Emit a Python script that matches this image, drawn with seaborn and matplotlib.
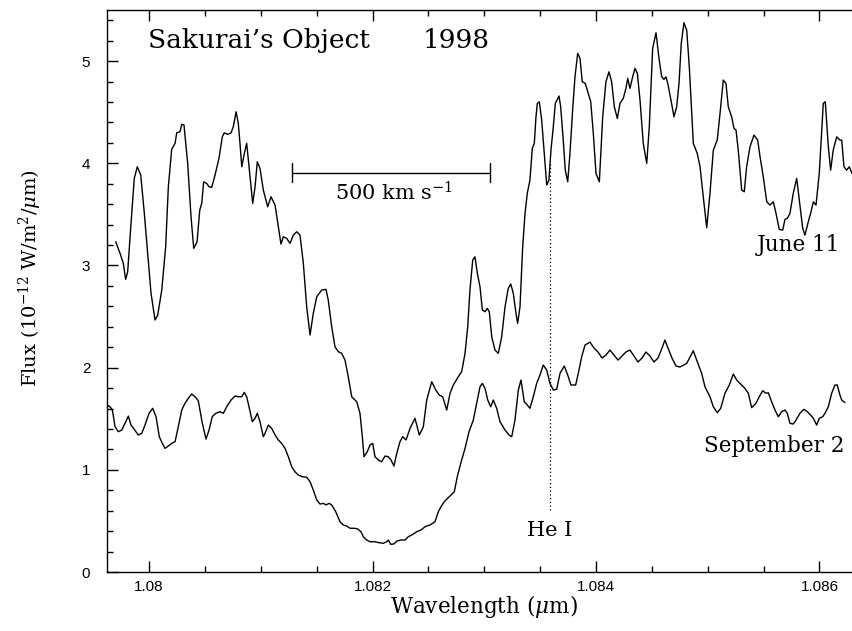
import matplotlib
matplotlib.use("Agg")
import matplotlib.pyplot as plt
import seaborn as sns
import pandas as pd
from matplotlib.ticker import MultipleLocator, FixedLocator, FixedFormatter

# ---------------- data ----------------
june_wl = [1.079702, 1.079740, 1.079770, 1.079791, 1.079809, 1.079839, 1.079868, 1.079895, 1.079926, 1.079958,
           1.079988, 1.080018, 1.080054, 1.080078, 1.080114, 1.080149, 1.080173, 1.080203, 1.080233, 1.080248,
           1.080277, 1.080293, 1.080313, 1.080346, 1.080376, 1.080400, 1.080430, 1.080454, 1.080472, 1.080489,
           1.080516, 1.080537, 1.080561, 1.080591, 1.080626, 1.080656, 1.080674, 1.080704, 1.080734, 1.080754,
           1.080779, 1.080799, 1.080814, 1.080830, 1.080853, 1.080874, 1.080895, 1.080928, 1.080949, 1.080969,
           1.080993, 1.081023, 1.081062, 1.081092, 1.081128, 1.081157, 1.081181, 1.081202, 1.081232, 1.081262,
           1.081291, 1.081322, 1.081351, 1.081381, 1.081411, 1.081441, 1.081470, 1.081501, 1.081545, 1.081584,
           1.081604, 1.081635, 1.081664, 1.081694, 1.081724, 1.081754, 1.081783, 1.081814, 1.081859, 1.081888,
           1.081909, 1.081924, 1.081953, 1.081978, 1.082002, 1.082022, 1.082052, 1.082082, 1.082112, 1.082141,
           1.082166, 1.082192, 1.082217, 1.082246, 1.082270, 1.082300, 1.082336, 1.082380, 1.082419, 1.082455,
           1.082485, 1.082530, 1.082566, 1.082598, 1.082628, 1.082664, 1.082694, 1.082723, 1.082768, 1.082798,
           1.082828, 1.082852, 1.082872, 1.082897, 1.082917, 1.082938, 1.082962, 1.082983, 1.083007, 1.083027,
           1.083045, 1.083067, 1.083096, 1.083126, 1.083156, 1.083186, 1.083215, 1.083237, 1.083260, 1.083284,
           1.083299, 1.083320, 1.083344, 1.083365, 1.083385, 1.083409, 1.083430, 1.083448, 1.083463, 1.083475,
           1.083493, 1.083514, 1.083535, 1.083559, 1.083579, 1.083597, 1.083618, 1.083636, 1.083669, 1.083684,
           1.083707, 1.083725, 1.083747, 1.083767, 1.083791, 1.083812, 1.083836, 1.083857, 1.083877, 1.083904,
           1.083931, 1.083953, 1.083976, 1.084000, 1.084030, 1.084060, 1.084089, 1.084116, 1.084140, 1.084164,
           1.084191, 1.084215, 1.084244, 1.084268, 1.084284, 1.084304, 1.084328, 1.084349, 1.084370, 1.084394,
           1.084423, 1.084454, 1.084477, 1.084507, 1.084537, 1.084564, 1.084588, 1.084608, 1.084626, 1.084642,
           1.084668, 1.084698, 1.084722, 1.084743, 1.084763, 1.084787, 1.084812, 1.084835, 1.084871, 1.084906,
           1.084931, 1.084960, 1.084991, 1.085020, 1.085050, 1.085085, 1.085110, 1.085139, 1.085163, 1.085184,
           1.085214, 1.085235, 1.085253, 1.085273, 1.085304, 1.085327, 1.085348, 1.085378, 1.085414, 1.085447,
           1.085468, 1.085497, 1.085528, 1.085557, 1.085587, 1.085611, 1.085640, 1.085671, 1.085691, 1.085712,
           1.085736, 1.085765, 1.085796, 1.085819, 1.085850, 1.085870, 1.085900, 1.085924, 1.085945, 1.085969,
           1.085998, 1.086034, 1.086052, 1.086079, 1.086100, 1.086123, 1.086154, 1.086183, 1.086199, 1.086219,
           1.086243, 1.086267, 1.086291]
june_flux = [3.232, 3.121, 3.021, 2.864, 2.938, 3.412, 3.852, 3.966, 3.885, 3.510,
             3.118, 2.727, 2.466, 2.515, 2.759, 3.183, 3.770, 4.136, 4.195, 4.298,
             4.308, 4.381, 4.374, 3.999, 3.477, 3.167, 3.232, 3.542, 3.608, 3.819,
             3.803, 3.770, 3.764, 3.885, 4.048, 4.259, 4.298, 4.283, 4.298, 4.357,
             4.504, 4.390, 4.195, 3.966, 4.097, 4.195, 3.966, 3.608, 3.770, 4.015,
             3.950, 3.738, 3.574, 3.672, 3.591, 3.379, 3.209, 3.281, 3.265, 3.216,
             3.297, 3.330, 3.297, 3.021, 2.596, 2.319, 2.531, 2.694, 2.759, 2.766,
             2.661, 2.400, 2.205, 2.156, 2.140, 2.074, 1.911, 1.715, 1.666, 1.553,
             1.324, 1.128, 1.177, 1.243, 1.259, 1.128, 1.096, 1.079, 1.135, 1.128,
             1.096, 1.037, 1.161, 1.275, 1.324, 1.292, 1.406, 1.504, 1.341, 1.422,
             1.683, 1.862, 1.781, 1.732, 1.715, 1.585, 1.749, 1.830, 1.911, 1.960,
             2.140, 2.400, 2.759, 3.053, 3.085, 2.923, 2.792, 2.564, 2.547, 2.580,
             2.547, 2.302, 2.172, 2.140, 2.302, 2.596, 2.776, 2.818, 2.727, 2.531,
             2.433, 2.596, 3.183, 3.510, 3.705, 3.836, 4.146, 4.195, 4.455, 4.586,
             4.602, 4.423, 4.129, 3.787, 3.836, 4.129, 4.357, 4.586, 4.658, 4.553,
             4.227, 3.933, 3.819, 4.097, 4.521, 4.846, 5.075, 5.026, 4.798, 4.782,
             4.684, 4.602, 4.293, 3.901, 3.819, 4.455, 4.798, 4.895, 4.798, 4.553,
             4.439, 4.586, 4.635, 4.733, 4.831, 4.733, 4.846, 4.929, 4.880, 4.618,
             4.195, 3.999, 4.357, 5.124, 5.277, 5.026, 4.846, 4.821, 4.846, 4.782,
             4.635, 4.455, 4.553, 4.782, 5.173, 5.375, 5.303, 4.944, 4.195, 4.097,
             3.966, 3.672, 3.369, 3.705, 4.129, 4.227, 4.488, 4.814, 4.782, 4.553,
             4.455, 4.341, 4.325, 4.129, 3.738, 3.721, 3.966, 4.161, 4.276, 4.227,
             4.064, 3.868, 3.623, 3.591, 3.623, 3.510, 3.353, 3.346, 3.451, 3.461,
             3.510, 3.705, 3.852, 3.640, 3.363, 3.297, 3.428, 3.525, 3.623, 3.591,
             3.901, 4.586, 4.602, 4.161, 3.933, 4.129, 4.259, 4.227, 4.227, 3.966,
             3.933, 3.966, 3.901]

sept_wl = [1.079624, 1.079651, 1.079672, 1.079696, 1.079725, 1.079756, 1.079785, 1.079815, 1.079839, 1.079868,
           1.079904, 1.079935, 1.079964, 1.080000, 1.080033, 1.080063, 1.080092, 1.080119, 1.080143, 1.080173,
           1.080203, 1.080233, 1.080262, 1.080293, 1.080322, 1.080352, 1.080382, 1.080412, 1.080441, 1.080477,
           1.080510, 1.080537, 1.080566, 1.080597, 1.080635, 1.080665, 1.080695, 1.080734, 1.080770, 1.080799,
           1.080830, 1.080853, 1.080874, 1.080895, 1.080924, 1.080949, 1.080969, 1.080993, 1.081023, 1.081038,
           1.081068, 1.081098, 1.081128, 1.081157, 1.081187, 1.081217, 1.081247, 1.081277, 1.081306, 1.081336,
           1.081372, 1.081411, 1.081441, 1.081470, 1.081501, 1.081530, 1.081560, 1.081584, 1.081611, 1.081635,
           1.081671, 1.081709, 1.081739, 1.081769, 1.081799, 1.081837, 1.081868, 1.081897, 1.081918, 1.081948,
           1.081978, 1.082022, 1.082058, 1.082097, 1.082127, 1.082141, 1.082163, 1.082190, 1.082219, 1.082255,
           1.082291, 1.082320, 1.082351, 1.082396, 1.082434, 1.082470, 1.082515, 1.082559, 1.082589, 1.082613,
           1.082642, 1.082673, 1.082702, 1.082732, 1.082762, 1.082798, 1.082828, 1.082864, 1.082902, 1.082932,
           1.082962, 1.082983, 1.083007, 1.083031, 1.083058, 1.083081, 1.083111, 1.083141, 1.083186, 1.083221,
           1.083246, 1.083275, 1.083305, 1.083329, 1.083358, 1.083385, 1.083409, 1.083439, 1.083469, 1.083499,
           1.083528, 1.083559, 1.083588, 1.083618, 1.083648, 1.083678, 1.083716, 1.083747, 1.083776, 1.083818,
           1.083848, 1.083872, 1.083902, 1.083946, 1.083982, 1.084018, 1.084054, 1.084089, 1.084125, 1.084161,
           1.084197, 1.084233, 1.084268, 1.084304, 1.084340, 1.084376, 1.084412, 1.084447, 1.084483, 1.084519,
           1.084555, 1.084591, 1.084617, 1.084644, 1.084680, 1.084716, 1.084752, 1.084812, 1.084871, 1.084901,
           1.084946, 1.084975, 1.085020, 1.085050, 1.085085, 1.085116, 1.085154, 1.085193, 1.085229, 1.085259,
           1.085289, 1.085333, 1.085363, 1.085393, 1.085432, 1.085461, 1.085492, 1.085521, 1.085542, 1.085572,
           1.085602, 1.085631, 1.085662, 1.085691, 1.085712, 1.085736, 1.085765, 1.085790, 1.085825, 1.085861,
           1.085891, 1.085921, 1.085945, 1.085975, 1.085998, 1.086029, 1.086049, 1.086079, 1.086109, 1.086139,
           1.086159, 1.086183, 1.086199, 1.086228]
sept_flux = [1.634, 1.617, 1.585, 1.422, 1.373, 1.389, 1.455, 1.526, 1.438, 1.396,
             1.341, 1.357, 1.438, 1.553, 1.602, 1.520, 1.324, 1.259, 1.210, 1.233,
             1.259, 1.275, 1.422, 1.585, 1.651, 1.700, 1.742, 1.715, 1.676, 1.455,
             1.301, 1.389, 1.520, 1.553, 1.569, 1.553, 1.617, 1.683, 1.722, 1.715,
             1.715, 1.758, 1.715, 1.617, 1.471, 1.504, 1.553, 1.471, 1.324, 1.357,
             1.438, 1.406, 1.341, 1.292, 1.259, 1.210, 1.128, 1.030, 0.981, 0.949,
             0.932, 0.927, 0.884, 0.802, 0.705, 0.665, 0.672, 0.656, 0.672, 0.656,
             0.590, 0.492, 0.460, 0.450, 0.428, 0.428, 0.421, 0.394, 0.345, 0.313,
             0.296, 0.296, 0.287, 0.281, 0.296, 0.313, 0.271, 0.274, 0.303, 0.313,
             0.313, 0.345, 0.362, 0.394, 0.411, 0.443, 0.460, 0.492, 0.590, 0.639,
             0.688, 0.721, 0.753, 0.786, 0.949, 1.096, 1.210, 1.373, 1.487, 1.651,
             1.813, 1.846, 1.797, 1.683, 1.617, 1.683, 1.602, 1.471, 1.389, 1.341,
             1.324, 1.487, 1.781, 1.879, 1.666, 1.634, 1.602, 1.715, 1.846, 1.928,
             2.025, 1.977, 1.846, 1.781, 1.788, 1.944, 2.016, 1.928, 1.830, 1.830,
             1.977, 2.107, 2.221, 2.250, 2.192, 2.153, 2.094, 2.123, 2.172, 2.123,
             2.074, 2.114, 2.153, 2.172, 2.114, 2.055, 2.094, 2.153, 2.114, 2.055,
             2.094, 2.192, 2.270, 2.192, 2.094, 2.016, 2.006, 2.042, 2.165, 2.074,
             1.944, 1.813, 1.715, 1.617, 1.559, 1.602, 1.749, 1.830, 1.937, 1.879,
             1.846, 1.797, 1.749, 1.608, 1.651, 1.715, 1.774, 1.749, 1.754, 1.666,
             1.585, 1.520, 1.569, 1.585, 1.553, 1.455, 1.448, 1.487, 1.553, 1.592,
             1.569, 1.536, 1.504, 1.438, 1.504, 1.520, 1.553, 1.617, 1.749, 1.830,
             1.830, 1.732, 1.683, 1.657]

xtick_values = [1.080, 1.082, 1.084, 1.086]
xtick_labels = ["1.08", "1.082", "1.084", "1.086"]
ytick_values = [0, 1, 2, 3, 4, 5]
ytick_labels = ["0", "1", "2", "3", "4", "5"]

x_range = (1.079624, 1.086291)
y_range = (0.0, 5.5)

title_object = "Sakurai’s Object"
title_year = "1998"
june_label = "June 11"
sept_label = "September 2"
line_label = "He I"
line_wl = 1.083588
line_span = (0.607, 3.999)
bar_label = "500 km s$^{-1}$"
bar_wl = (1.081277, 1.083051)
bar_flux = 3.907

# ---------------- styling ----------------
sns.set_style("ticks")
plt.rcParams["font.family"] = ["DejaVu Serif"]
plt.rcParams["mathtext.fontset"] = "dejavuserif"
plt.rcParams["text.color"] = "black"

fig = plt.figure(figsize=(8.52, 6.31), dpi=100)
ax = fig.add_axes([107 / 852, 59 / 631, 745 / 852, 562 / 631])

june_df = pd.DataFrame({"wavelength": june_wl, "flux": june_flux})
sept_df = pd.DataFrame({"wavelength": sept_wl, "flux": sept_flux})
sns.lineplot(data=june_df, x="wavelength", y="flux", ax=ax, color="black",
             linewidth=1.0, estimator=None, sort=False)
sns.lineplot(data=sept_df, x="wavelength", y="flux", ax=ax, color="black",
             linewidth=1.0, estimator=None, sort=False)

ax.set_xlim(*x_range)
ax.set_ylim(*y_range)
ax.set_xlabel("")
ax.set_ylabel("")

ax.xaxis.set_major_locator(FixedLocator(xtick_values))
ax.xaxis.set_major_formatter(FixedFormatter(xtick_labels))
ax.xaxis.set_minor_locator(MultipleLocator(0.0005))
ax.yaxis.set_major_locator(FixedLocator(ytick_values))
ax.yaxis.set_major_formatter(FixedFormatter(ytick_labels))
ax.yaxis.set_minor_locator(MultipleLocator(0.2))

ax.tick_params(axis="both", which="both", direction="in", top=True, right=False,
               width=1.0, color="black", labelcolor="black")
ax.tick_params(axis="both", which="major", length=8, labelsize=11, pad=6)
ax.tick_params(axis="both", which="minor", length=4)
for lab in ax.get_xticklabels() + ax.get_yticklabels():
    lab.set_family("Liberation Sans")
ax.tick_params(axis="y", pad=12)

for side in ["left", "bottom", "top"]:
    ax.spines[side].set_linewidth(1.0)
    ax.spines[side].set_color("black")
ax.spines["right"].set_visible(False)

# annotations
ax.text(1.079995, 5.2, title_object, fontsize=19, ha="left", va="center")
ax.text(1.082452, 5.2, title_year, fontsize=19, ha="left", va="center")
ax.text(1.086183, 3.2, june_label, fontsize=15.5, ha="right", va="center")
ax.text(1.086228, 1.23, sept_label, fontsize=15.5, ha="right", va="center")
ax.text(line_wl, 0.41, line_label, fontsize=15, ha="center", va="center")
ax.plot([line_wl, line_wl], list(line_span), color="black", linewidth=0.9,
        linestyle=(0, (1, 2)))
ax.plot(list(bar_wl), [bar_flux, bar_flux], color="black", linewidth=1.0)
for bx in bar_wl:
    ax.plot([bx, bx], [bar_flux - 0.095, bar_flux + 0.095], color="black", linewidth=1.0)
ax.text(1.082192, 3.71, bar_label, fontsize=15, ha="center", va="center")

fig.text(484 / 852, 1 - 606 / 631, "Wavelength ($\\mu$m)", fontsize=15.5,
         ha="center", va="center")
fig.text(30 / 852, 1 - 278 / 631, "Flux (10$^{-12}$ W/m$^2$/$\\mu$m)", fontsize=14,
         ha="center", va="center", rotation=90)

fig.savefig("out.png", dpi=100)
